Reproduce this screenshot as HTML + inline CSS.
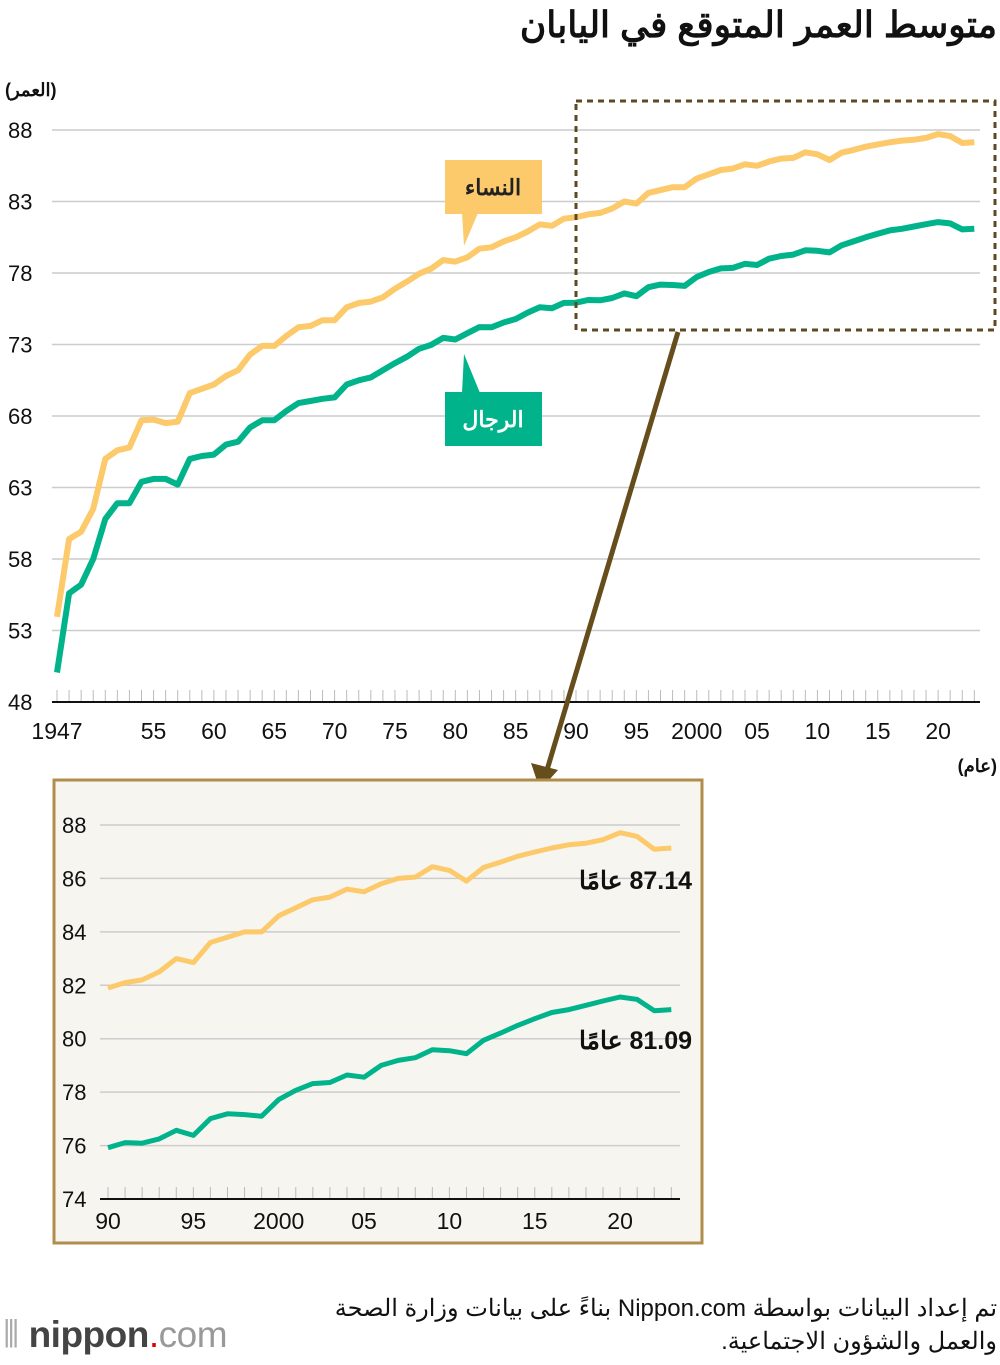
<!DOCTYPE html>
<html><head><meta charset="utf-8">
<style>
body{margin:0;background:#fff;width:1000px;height:1360px;overflow:hidden;font-family:"Liberation Sans","Noto Sans CJK SC",sans-serif;}
svg text{font-family:"Liberation Sans","Noto Sans CJK SC",sans-serif;}
</style></head><body>
<svg id="c" width="1000" height="1360">
<text x="997" y="37" direction="rtl" font-size="36" font-weight="bold" fill="#111">متوسط العمر المتوقع في اليابان</text>
<text x="5" y="96" font-size="18" font-weight="bold" fill="#111">(العمر)</text>
<text x="997" y="772" text-anchor="end" font-size="18" font-weight="bold" fill="#111">(عام)</text>
<g id="main"></g>
<rect x="576" y="101" width="419" height="229" fill="none" stroke="#5e4a22" stroke-width="3" stroke-dasharray="6,5"/>
<line x1="678" y1="332" x2="547" y2="770" stroke="#654d1c" stroke-width="5"/>
<polygon points="540,790 531,763 558,770" fill="#654d1c"/>
<g>
<rect x="445" y="160" width="97" height="54" fill="#fcc96b"/>
<polygon points="462,213 478,213 464,246" fill="#fcc96b"/>
<text x="493" y="195" text-anchor="middle" font-size="22" font-weight="bold" fill="#222">النساء</text></g>
<g>
<rect x="445" y="392" width="97" height="54" fill="#00b38a"/>
<polygon points="462,393 480,393 464,354" fill="#00b38a"/>
<text x="493" y="427" text-anchor="middle" font-size="22" font-weight="bold" fill="#fff">الرجال</text></g>
<rect x="54" y="780" width="648" height="463" fill="#f7f5f0" stroke="#b08d4a" stroke-width="3"/>
<g id="inset"></g>
<text x="997" y="1316" direction="rtl" font-size="24" fill="#111">تم إعداد البيانات بواسطة Nippon.com بناءً على بيانات وزارة الصحة</text>
<text x="997" y="1349" direction="rtl" font-size="24" fill="#111">والعمل والشؤون الاجتماعية.</text>
<g>
<text x="3" y="1347" font-size="37" fill="#aaa" letter-spacing="-0.5">⦀ <tspan fill="#444" font-weight="bold">nippon</tspan><tspan fill="#d00">.</tspan><tspan fill="#999">com</tspan></text></g>
</svg>
<script>
const years=[];for(let y=1947;y<=2023;y++)years.push(y);
const women=[53.96,59.4,59.9,61.5,65.0,65.6,65.8,67.7,67.75,67.5,67.6,69.6,69.9,70.2,70.8,71.2,72.3,72.9,72.9,73.6,74.2,74.3,74.7,74.7,75.6,75.9,76.0,76.3,76.9,77.4,77.95,78.3,78.9,78.8,79.1,79.7,79.8,80.2,80.5,80.9,81.4,81.3,81.8,81.9,82.1,82.2,82.5,83.0,82.85,83.6,83.8,84.0,84.0,84.6,84.9,85.2,85.3,85.6,85.5,85.8,86.0,86.05,86.44,86.3,85.9,86.41,86.61,86.83,86.99,87.14,87.26,87.32,87.45,87.71,87.57,87.09,87.14];
const men=[50.06,55.6,56.2,58.0,60.8,61.9,61.9,63.4,63.6,63.6,63.2,65.0,65.2,65.3,66.0,66.2,67.2,67.7,67.7,68.35,68.9,69.05,69.2,69.3,70.2,70.5,70.7,71.2,71.7,72.15,72.7,72.97,73.46,73.35,73.79,74.22,74.2,74.54,74.78,75.23,75.61,75.54,75.91,75.92,76.11,76.09,76.25,76.57,76.38,77.01,77.19,77.16,77.1,77.72,78.07,78.32,78.36,78.64,78.56,79.0,79.19,79.29,79.59,79.55,79.44,79.94,80.21,80.5,80.75,80.98,81.09,81.25,81.41,81.56,81.47,81.05,81.09];
const mainYTicks=[48,53,58,63,68,73,78,83,88];
const mainXTicks=[1947,1955,1960,1965,1970,1975,1980,1985,1990,1995,2000,2005,2010,2015,2020];
const mainXLabels=["1947","55","60","65","70","75","80","85","90","95","2000","05","10","15","20"];
const insetYTicks=[74,76,78,80,82,84,86,88];
const insetXTicks=[1990,1995,2000,2005,2010,2015,2020];
const insetXLabels=["90","95","2000","05","10","15","20"];
const NS="http://www.w3.org/2000/svg";
function mk(p,t,a){const e=document.createElementNS(NS,t);for(const k in a)e.setAttribute(k,a[k]);p.appendChild(e);return e;}
function draw(g,o){
 const sx=v=>o.x0+(v-o.xa)*(o.x1-o.x0)/(o.xb-o.xa), sy=v=>o.y0+(v-o.ya)*(o.y1-o.y0)/(o.yb-o.ya);
 o.yt.forEach((t,i)=>{
  if(i>0){const l=mk(g,'line',{x1:o.gx0,x2:o.gx1,y1:sy(t),y2:sy(t),stroke:'#ccc','stroke-width':1.5});
  
  }
  const tx=mk(g,'text',{x:o.lx,y:sy(t)+8,'font-size':22,fill:'#111'});tx.textContent=t;
  
  
 });
 for(let y=o.xa;y<=o.xb;y++){const l=mk(g,'line',{x1:sx(y),x2:sx(y),y1:sy(o.ya),y2:sy(o.ya)-12,stroke:'#bbb','stroke-width':1});
  
  }
 const ax=mk(g,'line',{x1:o.gx0,x2:o.gx1,y1:sy(o.ya),y2:sy(o.ya),stroke:'#111','stroke-width':2});
 
 
 o.xt.forEach((t,i)=>{const tx=mk(g,'text',{x:sx(t),y:sy(o.ya)+o.ly,'font-size':23,'text-anchor':'middle',fill:'#111'});tx.textContent=o.xl[i];
  
  });
 [[women,'#fcc96b','women-line'],[men,'#00b38a','men-line']].forEach(s=>{
  let d='';years.forEach((y,i)=>{if(y>=o.xa)d+=(d?'L':'M')+sx(y).toFixed(1)+','+sy(s[0][i]).toFixed(1);});
  const p=mk(g,'path',{d:d,fill:'none',stroke:s[1],'stroke-width':o.sw,'stroke-linejoin':'round'});
  
  
 });
 return {sx,sy};
}
draw(document.getElementById('main'),{xa:1947,xb:2023,x0:57,x1:57+76*12.07,ya:48,yb:88,y0:702,y1:130,gx0:52,gx1:980,lx:8,ly:37,yt:mainYTicks,xt:mainXTicks,xl:mainXLabels,sw:6});
draw(document.getElementById('inset'),{xa:1990,xb:2023,x0:108,x1:108+33*17.07,ya:74,yb:88,y0:1199,y1:825,gx0:100,gx1:680,lx:62,ly:30,yt:insetYTicks,xt:insetXTicks,xl:insetXLabels,sw:5});
const g=document.getElementById('inset');
const a=mk(g,'text',{x:692,y:889,'font-size':25,'font-weight':'bold',direction:'rtl',fill:'#111'});a.textContent='87.14 عامًا';


const b=mk(g,'text',{x:692,y:1049,'font-size':25,'font-weight':'bold',direction:'rtl',fill:'#111'});b.textContent='81.09 عامًا';


</script>
</body></html>
